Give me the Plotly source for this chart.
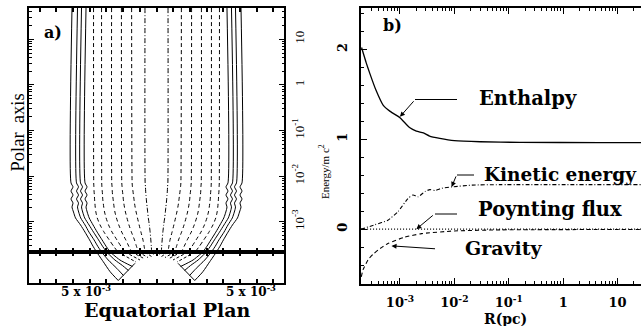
import math
import plotly.graph_objects as go

W, H = 641, 326
SERIF = "Liberation Serif"
BOLD = "DejaVu Serif"

# ---------------- Panel a : field lines (x in units of 1e-3, right half; left half is the mirror) -------------
a_upper_y = [48.5, 0.0071, 0.0058, 0.0047, 0.00385, 0.00315, 0.00257, 0.0021,
             0.00163, 0.00121, 0.00085, 0.00059, 0.0004, 0.00029, 0.000217]

a_solid_upper = [
    [5.06, 5.12, 5.00, 5.12, 5.00, 5.12, 5.00, 5.06, 4.97, 4.85, 4.55, 4.28, 4.01, 3.80, 3.59],
    [4.73, 4.79, 4.67, 4.79, 4.67, 4.79, 4.67, 4.73, 4.66, 4.54, 4.28, 4.04, 3.74, 3.52, 3.29],
    [4.49, 4.55, 4.43, 4.55, 4.43, 4.55, 4.43, 4.49, 4.42, 4.30, 4.04, 3.77, 3.47, 3.23, 2.99],
    [4.22, 4.28, 4.16, 4.28, 4.16, 4.28, 4.16, 4.22, 4.15, 4.03, 3.80, 3.55, 3.26, 3.02, 2.78],
]
a_dashed_upper = [
    [3.77, 3.76, 3.75, 3.74, 3.72, 3.71, 3.69, 3.67, 3.63, 3.55, 3.38, 3.14, 2.83, 2.57, 2.31],
    [3.29, 3.28, 3.27, 3.25, 3.23, 3.22, 3.19, 3.16, 3.11, 3.02, 2.87, 2.66, 2.37, 2.13, 1.89],
    [2.69, 2.68, 2.66, 2.65, 2.63, 2.60, 2.57, 2.54, 2.49, 2.40, 2.26, 2.08, 1.84, 1.66, 1.49],
    [2.10, 2.08, 2.06, 2.04, 2.01, 1.99, 1.96, 1.92, 1.86, 1.77, 1.65, 1.50, 1.32, 1.20, 1.09],
    [1.49, 1.46, 1.44, 1.41, 1.38, 1.35, 1.32, 1.28, 1.22, 1.14, 1.04, 0.93, 0.81, 0.74, 0.69],
]
a_dashdot_upper = [0.69, 0.68, 0.66, 0.65, 0.63, 0.61, 0.59, 0.56, 0.53, 0.49, 0.43, 0.38, 0.34, 0.31, 0.29]

# lower (equatorial) strip: (x list, y list) per line
a_solid_lower = [
    ([3.59, 3.19, 2.78, 2.29], [1.83, 1.25, 0.65, 0.12]),
    ([3.29, 2.89, 2.38, 1.98], [1.83, 1.35, 0.85, 0.42]),
    ([2.99, 2.49, 2.04, 1.68], [1.83, 1.35, 1.02, 0.72]),
    ([2.78, 2.19, 1.44], [1.83, 1.35, 0.96]),
]
a_dashed_lower = [
    ([2.31, 1.23], [1.83, 1.23]),
    ([1.89, 0.99], [1.83, 1.35]),
    ([1.49, 0.75], [1.83, 1.44]),
    ([1.09, 0.51], [1.83, 1.50]),
    ([0.69, 0.30], [1.83, 1.56]),
]
a_dashdot_lower = ([0.29, 0.12], [1.83, 1.59])
a_boundary = ([2.29, 1.29], [0.12, 1.15])

a_y_tickvals = [1e-3, 1e-2, 1e-1, 1, 10]
a_y_ticktext = ["10<sup>-3</sup>", "10<sup>-2</sup>", "10<sup>-1</sup>", "1", "10"]
a_x_tickvals = [-4.22, 5.66]
a_x_ticktext = ["<b>5 x 10<sup>-3</sup></b>", "<b>5 x 10<sup>-3</sup></b>"]

# ---------------- Panel b : energies vs R(pc) ----------------
enth_R = [1.97e-4, 2.4e-4, 2.8e-4, 3.6e-4, 4.9e-4, 6.6e-4, 1.0e-3, 1.5e-3, 2.0e-3,
          2.7e-3, 3.5e-3, 5.4e-3, 1.0e-2, 3.0e-2, 0.16, 4.7, 30]
enth_E = [2.02, 1.85, 1.73, 1.55, 1.38, 1.31, 1.24, 1.13, 1.09,
          1.07, 1.035, 1.01, 0.985, 0.972, 0.965, 0.963, 0.963]

kin_R = [1.93e-4, 3.5e-4, 6.0e-4, 9.2e-4, 1.4e-3, 1.74e-3, 2.14e-3, 2.9e-3, 3.55e-3,
         4.4e-3, 5.9e-3, 9.0e-3, 2.1e-2, 6.8e-2, 30]
kin_E = [0.0, 0.05, 0.10, 0.195, 0.34, 0.38, 0.36, 0.42, 0.44,
         0.43, 0.455, 0.47, 0.49, 0.495, 0.495]

poy_R = [1.93e-4, 30]
poy_E = [0.0, 0.0]

grav_R = [1.95e-4, 2.1e-4, 2.6e-4, 3.2e-4, 4.0e-4, 6.0e-4, 1.2e-3, 2.5e-3, 1.0e-2, 7e-2, 30]
grav_E = [-0.53, -0.45, -0.34, -0.28, -0.23, -0.16, -0.09, -0.05, -0.02, -0.008, -0.003]

b_x_tickvals = [1e-3, 1e-2, 1e-1, 1, 10]
b_x_ticktext = ["<b>10<sup>-3</sup></b>", "<b>10<sup>-2</sup></b>", "<b>10<sup>-1</sup></b>", "<b>1</b>", "<b>10</b>"]
b_y_tickvals = [0, 1, 2]
b_y_ticktext = ["<b>0</b>", "<b>1</b>", "<b>2</b>"]

# ------------------------------------------------------------
fig = go.Figure()
DASH = "4px,3px"
DASHDOT = "5px,2px,1px,2px"


def add_line(xs, ys, dash, xa, ya, spline=True):
    for sgn in (1, -1):
        fig.add_trace(go.Scatter(
            x=[sgn * v for v in xs], y=ys, mode="lines", xaxis=xa, yaxis=ya,
            line=dict(color="black", width=1, dash=dash,
                      shape="spline" if spline else "linear", smoothing=0.6),
            hoverinfo="skip"))


for xs in a_solid_upper:
    add_line(xs, a_upper_y, "solid", "x", "y")
for xs in a_dashed_upper:
    add_line(xs, a_upper_y, DASH, "x", "y")
add_line(a_dashdot_upper, a_upper_y, DASHDOT, "x", "y")

for xs, ys in a_solid_lower:
    add_line(xs, ys, "solid", "x2", "y2")
for xs, ys in a_dashed_lower:
    add_line(xs, ys, "3px,2px", "x2", "y2", spline=False)
add_line(a_dashdot_lower[0], a_dashdot_lower[1], "3px,2px", "x2", "y2", spline=False)
add_line(a_boundary[0], a_boundary[1], "solid", "x2", "y2", spline=False)

# panel b curves
fig.add_trace(go.Scatter(x=enth_R, y=enth_E, mode="lines", xaxis="x3", yaxis="y3",
                         line=dict(color="black", width=1.3, shape="spline", smoothing=0.5)))
fig.add_trace(go.Scatter(x=kin_R, y=kin_E, mode="lines", xaxis="x3", yaxis="y3",
                         line=dict(color="black", width=1.1, dash="4px,2px,1px,2px", shape="spline", smoothing=0.5)))
fig.add_trace(go.Scatter(x=poy_R, y=poy_E, mode="lines", xaxis="x3", yaxis="y3",
                         line=dict(color="black", width=1.1, dash="1px,2px")))
fig.add_trace(go.Scatter(x=grav_R, y=grav_E, mode="lines", xaxis="x3", yaxis="y3",
                         line=dict(color="black", width=1.1, dash="4px,3px", shape="spline", smoothing=0.5)))


def P(px, py):
    return px / W, 1 - py / H


minor_log_a = [m * 10 ** k for k in range(-4, 2) for m in range(2, 10)]
minor_log_b = [m * 10 ** k for k in range(-4, 2) for m in range(2, 10)]

axis_common = dict(showgrid=False, zeroline=False, showline=True, linecolor="black")

fig.update_layout(
    width=W, height=H, margin=dict(l=0, r=0, t=0, b=0),
    paper_bgcolor="white", plot_bgcolor="white", showlegend=False,
    xaxis=dict(domain=[29 / W, 284 / W], range=[-7.635, 7.635], anchor="y",
               linewidth=2, mirror="ticks", ticks="inside", tickmode="linear", tick0=0, dtick=1,
               ticklen=4, tickwidth=1.5, tickcolor="black", showticklabels=False, **axis_common),
    yaxis=dict(domain=[1 - 252 / H, 1 - 8 / H], type="log", range=[-3.664, 1.686], anchor="x",
               side="right", tickmode="array", tickvals=a_y_tickvals, ticktext=a_y_ticktext,
               tickangle=-90, ticks="inside", ticklen=5, tickwidth=1.2, tickcolor="black",
               mirror="ticks", linewidth=2, ticklabelstandoff=2,
               tickfont=dict(family=SERIF, size=13, color="black"),
               minor=dict(tickmode="array", tickvals=minor_log_a, ticks="inside", ticklen=2.5,
                          tickcolor="black", tickwidth=1),
               **axis_common),
    xaxis2=dict(domain=[29 / W, 284 / W], range=[-7.635, 7.635], anchor="y2",
                tickmode="array", tickvals=a_x_tickvals, ticktext=a_x_ticktext,
                ticks="inside", ticklen=0, mirror="ticks", linewidth=2, ticklabelstandoff=-3,
                tickfont=dict(family=BOLD, size=12, color="black"),
                minor=dict(tickmode="array", tickvals=list(range(-7, 8)), ticks="inside",
                           ticklen=4, tickwidth=1.5, tickcolor="black"),
                **axis_common),
    yaxis2=dict(domain=[1 - 282.5 / H, 1 - 252 / H], range=[0, 1.83], anchor="x2",
                showticklabels=False, ticks="", mirror=True, linewidth=2, **axis_common),
    xaxis3=dict(domain=[361 / W, 1], type="log", range=[-3.716, 1.43], anchor="y3",
                tickmode="array", tickvals=b_x_tickvals, ticktext=b_x_ticktext,
                ticks="inside", ticklen=6, tickwidth=1, tickcolor="black", mirror="ticks",
                linewidth=1.5, ticklabelstandoff=6,
                tickfont=dict(family=BOLD, size=13, color="black"),
                minor=dict(tickmode="array", tickvals=minor_log_b, ticks="inside", ticklen=3,
                           tickcolor="black", tickwidth=1),
                **axis_common),
    yaxis3=dict(domain=[1 - 284 / H, 1 - 8 / H], range=[-0.61, 2.46], anchor="x3",
                tickmode="array", tickvals=b_y_tickvals, ticktext=b_y_ticktext, tickangle=-90,
                ticks="inside", ticklen=6, tickwidth=1, tickcolor="black", mirror=False,
                linewidth=1.5, ticklabelstandoff=7,
                tickfont=dict(family=BOLD, size=13, color="black"),
                minor=dict(dtick=0.2, ticks="inside", ticklen=3, tickcolor="black", tickwidth=1),
                **axis_common),
)

ann = []


def text(px, py, s, size, family=BOLD, angle=0):
    x, y = P(px, py)
    ann.append(dict(x=x, y=y, xref="paper", yref="paper", text=s, showarrow=False,
                    textangle=angle, font=dict(family=family, size=size, color="black"),
                    xanchor="center", yanchor="middle"))


text(53, 33, "<b>a)</b>", 16)
text(392, 25, "<b>b)</b>", 16)
text(17.5, 133, "Polar  axis", 18.5, family=SERIF, angle=-90)
text(167, 309.5, "<b>Equatorial Plan</b>", 19)
text(505, 319, "<b>R(pc)</b>", 14)
text(324, 172, "Energy/m c<sup>2</sup>", 11, family=SERIF, angle=-90)
text(528, 98, "<b>Enthalpy</b>", 19.5)
text(560, 174, "<b>Kinetic energy</b>", 18.5)
text(550, 210, "<b>Poynting flux</b>", 19.5)
text(504, 248, "<b>Gravity</b>", 19)


def arrow(R, E, ax, ay):
    ann.append(dict(x=math.log10(R), y=E, xref="x3", yref="y3", text="", showarrow=True,
                    ax=ax, ay=ay, arrowhead=2, arrowsize=1, arrowwidth=1, arrowcolor="black"))


arrow(1.0e-3, 1.25, 15, -17)
arrow(8.9e-3, 0.47, 5, -12)
arrow(2.0e-3, 0.0, 18, -15)
arrow(7.0e-4, -0.186, 45, 3)

shapes = []


def hseg(px0, px1, py):
    x0, y = P(px0, py)
    x1, _ = P(px1, py)
    shapes.append(dict(type="line", xref="paper", yref="paper", x0=x0, x1=x1, y0=y, y1=y,
                       line=dict(color="black", width=1)))


hseg(415, 457, 99.5)
hseg(457, 474, 175)
hseg(435, 457, 214)

fig.update_layout(annotations=ann, shapes=shapes)
fig.write_html("out.html", config={"displayModeBar": False},
               post_script="document.body.style.margin='0';document.body.style.overflow='hidden';")
